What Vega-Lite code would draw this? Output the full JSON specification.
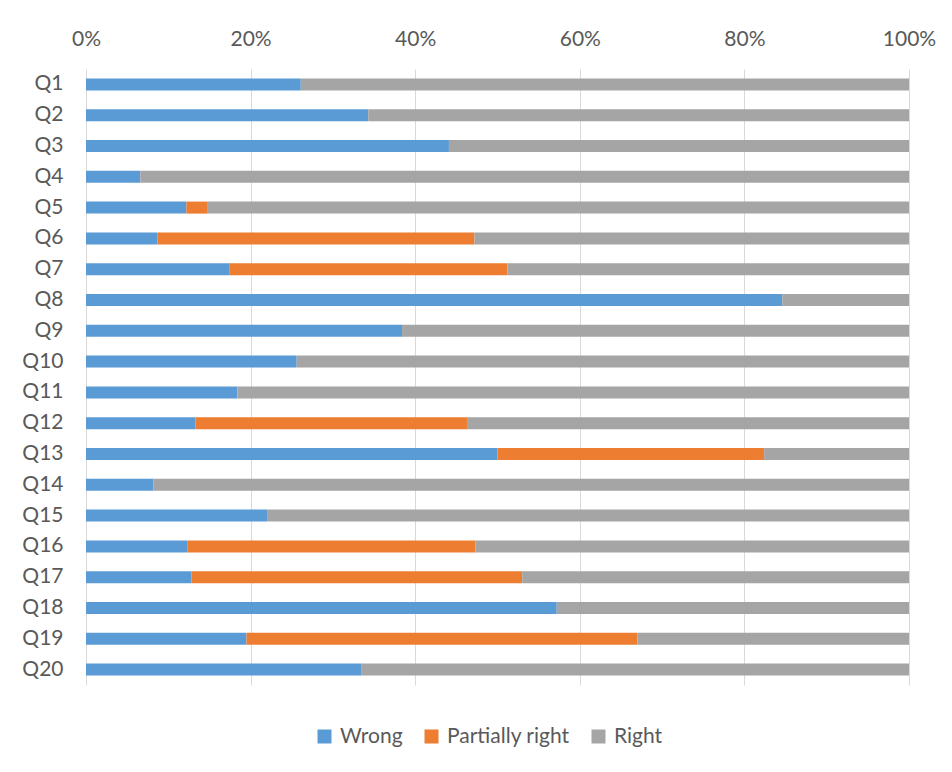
{
  "$schema": "https://vega.github.io/schema/vega-lite/v6.json",
  "width": 823,
  "height": 616,
  "autosize": {"type": "none"},
  "padding": {"left": 86, "top": 69, "right": 43, "bottom": 87},
  "background": "white",
  "data": {"values": [
    {"q": "Q1", "answer": "Wrong", "pct": 26.1}, {"q": "Q1", "answer": "Right", "pct": 73.9},
    {"q": "Q2", "answer": "Wrong", "pct": 34.3}, {"q": "Q2", "answer": "Right", "pct": 65.7},
    {"q": "Q3", "answer": "Wrong", "pct": 44.1}, {"q": "Q3", "answer": "Right", "pct": 55.9},
    {"q": "Q4", "answer": "Wrong", "pct": 6.6}, {"q": "Q4", "answer": "Right", "pct": 93.4},
    {"q": "Q5", "answer": "Wrong", "pct": 12.2}, {"q": "Q5", "answer": "Partially right", "pct": 2.6}, {"q": "Q5", "answer": "Right", "pct": 85.2},
    {"q": "Q6", "answer": "Wrong", "pct": 8.7}, {"q": "Q6", "answer": "Partially right", "pct": 38.5}, {"q": "Q6", "answer": "Right", "pct": 52.8},
    {"q": "Q7", "answer": "Wrong", "pct": 17.4}, {"q": "Q7", "answer": "Partially right", "pct": 33.8}, {"q": "Q7", "answer": "Right", "pct": 48.8},
    {"q": "Q8", "answer": "Wrong", "pct": 84.6}, {"q": "Q8", "answer": "Right", "pct": 15.4},
    {"q": "Q9", "answer": "Wrong", "pct": 38.4}, {"q": "Q9", "answer": "Right", "pct": 61.6},
    {"q": "Q10", "answer": "Wrong", "pct": 25.6}, {"q": "Q10", "answer": "Right", "pct": 74.4},
    {"q": "Q11", "answer": "Wrong", "pct": 18.4}, {"q": "Q11", "answer": "Right", "pct": 81.6},
    {"q": "Q12", "answer": "Wrong", "pct": 13.3}, {"q": "Q12", "answer": "Partially right", "pct": 33.0}, {"q": "Q12", "answer": "Right", "pct": 53.7},
    {"q": "Q13", "answer": "Wrong", "pct": 50.0}, {"q": "Q13", "answer": "Partially right", "pct": 32.4}, {"q": "Q13", "answer": "Right", "pct": 17.6},
    {"q": "Q14", "answer": "Wrong", "pct": 8.2}, {"q": "Q14", "answer": "Right", "pct": 91.8},
    {"q": "Q15", "answer": "Wrong", "pct": 22.0}, {"q": "Q15", "answer": "Right", "pct": 78.0},
    {"q": "Q16", "answer": "Wrong", "pct": 12.3}, {"q": "Q16", "answer": "Partially right", "pct": 35.0}, {"q": "Q16", "answer": "Right", "pct": 52.7},
    {"q": "Q17", "answer": "Wrong", "pct": 12.8}, {"q": "Q17", "answer": "Partially right", "pct": 40.2}, {"q": "Q17", "answer": "Right", "pct": 47.0},
    {"q": "Q18", "answer": "Wrong", "pct": 57.2}, {"q": "Q18", "answer": "Right", "pct": 42.8},
    {"q": "Q19", "answer": "Wrong", "pct": 19.5}, {"q": "Q19", "answer": "Partially right", "pct": 47.5}, {"q": "Q19", "answer": "Right", "pct": 33.0},
    {"q": "Q20", "answer": "Wrong", "pct": 33.5}, {"q": "Q20", "answer": "Right", "pct": 66.5}
  ]},
  "transform": [
    {"calculate": "indexof(['Wrong', 'Partially right', 'Right'], datum.answer)", "as": "stackOrder"}
  ],
  "mark": {"type": "bar"},
  "encoding": {
    "y": {
      "field": "q", "type": "nominal", "sort": null,
      "scale": {"paddingInner": 0.61, "paddingOuter": 0.305},
      "axis": {"title": null, "domain": false, "ticks": false, "tickSize": 0, "labelPadding": 23, "grid": false}
    },
    "x": {
      "field": "pct", "type": "quantitative", "stack": "normalize",
      "scale": {"domain": [0, 1], "nice": false},
      "axis": {"orient": "top", "title": null, "format": ".0%", "values": [0, 0.2, 0.4, 0.6, 0.8, 1], "domain": false, "ticks": false, "tickSize": 0, "labelPadding": 20, "grid": true, "gridColor": "#D9D9D9", "gridWidth": 1, "labelFlush": false}
    },
    "order": {"field": "stackOrder", "type": "quantitative", "sort": "ascending"},
    "color": {
      "field": "answer", "type": "nominal",
      "sort": ["Wrong", "Partially right", "Right"],
      "scale": {"domain": ["Wrong", "Partially right", "Right"], "range": ["#5B9BD5", "#ED7D31", "#A5A5A5"]},
      "legend": {"title": null, "orient": "none", "legendX": 228, "legendY": 657, "direction": "horizontal", "gridAlign": "none", "symbolType": "square", "symbolSize": 196, "symbolStrokeWidth": 0, "labelOffset": 5, "columnPadding": 18, "labelFontSize": 21, "labelFont": "Lato", "labelColor": "#595959"}
    }
  },
  "config": {
    "view": {"stroke": null},
    "axis": {"labelFont": "Lato", "labelFontSize": 21, "labelColor": "#595959"}
  }
}
